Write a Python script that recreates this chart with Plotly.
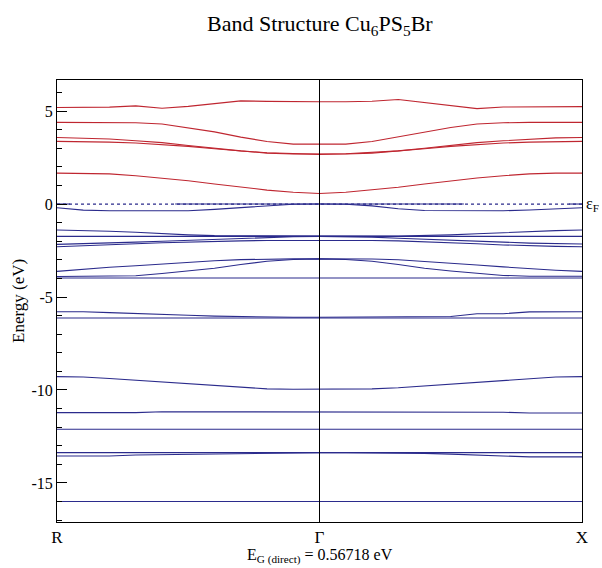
import plotly.graph_objects as go

# k-path positions: R (0) -> Gamma (1) -> X (2)
K = [0.0, 0.1, 0.2, 0.3, 0.4, 0.5, 0.6, 0.7, 0.8, 0.9, 1.0,
     1.1, 1.2, 1.3, 1.4, 1.5, 1.6, 1.7, 1.8, 1.9, 2.0]
TICK_POS = [0, 1, 2]
TICK_TEXT = ["R", "Γ", "X"]

# conduction bands (red)
CB_A = [5.19, 5.19, 5.21, 5.28, 5.15, 5.25, 5.40, 5.55, 5.52, 5.50, 5.50,
        5.50, 5.53, 5.62, 5.45, 5.28, 5.13, 5.22, 5.24, 5.24, 5.24]
CB_B = [4.39, 4.39, 4.39, 4.37, 4.30, 4.10, 3.88, 3.60, 3.36, 3.22, 3.20,
        3.22, 3.36, 3.60, 3.88, 4.12, 4.30, 4.37, 4.39, 4.39, 4.39]
CB_C = [3.58, 3.56, 3.50, 3.40, 3.30, 3.15, 3.00, 2.86, 2.76, 2.70, 2.67,
        2.70, 2.76, 2.86, 3.00, 3.15, 3.30, 3.40, 3.50, 3.56, 3.58]
CB_D = [3.37, 3.36, 3.33, 3.28, 3.20, 3.10, 2.97, 2.84, 2.74, 2.69, 2.67,
        2.69, 2.74, 2.84, 2.97, 3.10, 3.20, 3.28, 3.33, 3.36, 3.37]
CB_E = [1.66, 1.66, 1.62, 1.52, 1.40, 1.25, 1.08, 0.90, 0.75, 0.63, 0.567,
        0.63, 0.75, 0.90, 1.08, 1.25, 1.40, 1.52, 1.62, 1.66, 1.66]

# top valence band (partly hidden under the dotted Fermi level)
VB1_K = [0.0, 0.05, None, 0.45, 1.0, 1.55, None, 1.95, 2.0]
VB1_E = [0.0, 0.0, None, 0.0, 0.0, 0.0, None, 0.0, 0.0]

# valence bands (blue)
VB_2 = [-0.20, -0.33, -0.36, -0.36, -0.36, -0.36, -0.29, -0.19, -0.08, -0.01, 0.0,
        -0.01, -0.10, -0.25, -0.35, -0.36, -0.36, -0.36, -0.32, -0.26, -0.20]
VB_W1 = [-1.40, -1.42, -1.46, -1.52, -1.60, -1.66, -1.70, -1.71, -1.72, -1.72, -1.72,
         -1.72, -1.72, -1.72, -1.70, -1.66, -1.60, -1.53, -1.47, -1.43, -1.40]
VB_W2 = [-1.74, -1.74, -1.74, -1.74, -1.74, -1.74, -1.74, -1.74, -1.74, -1.74, -1.74,
         -1.74, -1.74, -1.74, -1.74, -1.74, -1.74, -1.74, -1.74, -1.74, -1.74]
VB_W3 = [-2.17, -2.14, -2.10, -2.05, -2.00, -1.95, -1.90, -1.84, -1.78, -1.76, -1.75,
         -1.76, -1.78, -1.84, -1.90, -1.95, -2.00, -2.05, -2.10, -2.13, -2.15]
VB_W4 = [-2.30, -2.26, -2.20, -2.14, -2.08, -2.04, -2.01, -1.98, -1.96, -1.95, -1.95,
         -1.95, -1.96, -1.98, -2.02, -2.08, -2.14, -2.20, -2.25, -2.28, -2.30]
VB_F1 = [-3.62, -3.50, -3.40, -3.32, -3.22, -3.13, -3.05, -2.99, -2.96, -2.95, -2.95,
         -2.95, -2.96, -3.00, -3.08, -3.18, -3.28, -3.38, -3.48, -3.56, -3.62]
VB_F2 = [-3.90, -3.90, -3.90, -3.86, -3.74, -3.60, -3.45, -3.25, -3.08, -2.98, -2.95,
         -2.98, -3.08, -3.25, -3.45, -3.60, -3.74, -3.84, -3.88, -3.88, -3.88]
VB_F3 = [-3.98, -3.98, -3.98, -3.98, -3.98, -3.98, -3.98, -3.98, -3.98, -3.98, -3.98,
         -3.98, -3.98, -3.98, -3.98, -3.98, -3.98, -3.98, -3.98, -3.98, -3.98]
VB_G1 = [-5.79, -5.79, -5.84, -5.88, -5.90, -5.98, -6.03, -6.06, -6.08, -6.09, -6.09,
         -6.09, -6.08, -6.06, -6.05, -6.05, -5.90, -5.90, -5.80, -5.79, -5.79]
VB_G2 = [-6.13, -6.13, -6.12, -6.12, -6.11, -6.11, -6.10, -6.10, -6.09, -6.09, -6.09,
         -6.09, -6.09, -6.10, -6.10, -6.11, -6.11, -6.12, -6.13, -6.13, -6.13]
VB_H = [-9.28, -9.30, -9.38, -9.48, -9.58, -9.67, -9.78, -9.88, -9.94, -9.96, -9.96,
        -9.96, -9.94, -9.88, -9.78, -9.67, -9.58, -9.48, -9.38, -9.30, -9.28]
VB_I = [-11.22, -11.22, -11.22, -11.22, -11.17, -11.17, -11.17, -11.17, -11.17, -11.17, -11.17,
        -11.17, -11.17, -11.17, -11.17, -11.17, -11.17, -11.20, -11.24, -11.24, -11.24]
VB_J = [-12.11, -12.11, -12.11, -12.11, -12.11, -12.11, -12.11, -12.11, -12.11, -12.11, -12.11,
        -12.11, -12.11, -12.11, -12.11, -12.11, -12.11, -12.11, -12.11, -12.11, -12.11]
VB_K1 = [-13.37, -13.37, -13.37, -13.37, -13.37, -13.37, -13.37, -13.37, -13.37, -13.37, -13.37,
         -13.37, -13.37, -13.37, -13.37, -13.37, -13.37, -13.37, -13.37, -13.37, -13.37]
VB_K2 = [-13.55, -13.55, -13.55, -13.50, -13.48, -13.43, -13.41, -13.39, -13.37, -13.37, -13.37,
         -13.37, -13.37, -13.39, -13.41, -13.45, -13.50, -13.58, -13.60, -13.60, -13.60]
VB_L = [-16.00, -16.00, -16.00, -16.00, -16.00, -16.00, -16.00, -16.00, -16.00, -16.00, -16.00,
        -16.00, -16.00, -16.00, -16.00, -16.00, -16.00, -16.00, -16.00, -16.00, -16.00]

CONDUCTION = [CB_A, CB_B, CB_C, CB_D, CB_E]
VALENCE = [VB_2, VB_W1, VB_W2, VB_W3, VB_W4, VB_F1, VB_F2, VB_F3,
           VB_G1, VB_G2, VB_H, VB_I, VB_J, VB_K1, VB_K2, VB_L]

GAP_TEXT = "E<sub>G (direct)</sub> = 0.56718 eV"
TITLE = "Band Structure Cu<sub>6</sub>PS<sub>5</sub>Br"

RED = "#bf2630"
BLUE = "#2b2b8c"
FONT = "Liberation Serif"

fig = go.Figure()
for band in CONDUCTION:
    fig.add_trace(go.Scatter(x=K, y=band, mode="lines",
                             line=dict(color=RED, width=1.1), hoverinfo="skip"))
# Fermi level (dotted)
fig.add_trace(go.Scatter(x=[0, 2], y=[0, 0], mode="lines",
                         line=dict(color=BLUE, width=1.2, dash="dot"), hoverinfo="skip"))
fig.add_trace(go.Scatter(x=VB1_K, y=VB1_E, mode="lines", connectgaps=False,
                         line=dict(color=BLUE, width=1.1), hoverinfo="skip"))
for band in VALENCE:
    fig.add_trace(go.Scatter(x=K, y=band, mode="lines",
                             line=dict(color=BLUE, width=1.1), hoverinfo="skip"))

fig.add_shape(type="line", xref="x", yref="paper", x0=1, x1=1, y0=0, y1=1,
              line=dict(color="black", width=1))

fig.update_layout(
    width=602, height=568,
    margin=dict(l=57, r=20, t=80, b=46),
    paper_bgcolor="white", plot_bgcolor="white",
    showlegend=False,
    font=dict(family=FONT, color="black"),
    xaxis=dict(range=[0, 2], tickvals=TICK_POS, ticktext=TICK_TEXT,
               showgrid=False, zeroline=False, showline=True, mirror=True,
               linecolor="black", linewidth=1, ticks="",
               tickfont=dict(family=FONT, size=17)),
    yaxis=dict(range=[-17.1, 6.67], tickvals=[-15, -10, -5, 0, 5],
               ticktext=["-15", "-10", "-5", "0", "5"],
               showgrid=False, zeroline=False, showline=True, mirror=True,
               linecolor="black", linewidth=1, ticks="inside", ticklen=10,
               tickcolor="black", tickwidth=1,
               minor=dict(dtick=1, tick0=0, ticks="inside", ticklen=5,
                          tickcolor="black", tickwidth=1, showgrid=False),
               tickfont=dict(family=FONT, size=16)),
    annotations=[
        dict(text=TITLE, xref="paper", yref="paper", x=0.5, y=1, yshift=55,
             xanchor="center", yanchor="middle", showarrow=False,
             font=dict(family=FONT, size=22)),
        dict(text=GAP_TEXT, xref="paper", yref="paper", x=0.5, y=0, yshift=-34,
             xanchor="center", yanchor="middle", showarrow=False,
             font=dict(family=FONT, size=16)),
        dict(text="Energy (eV)", xref="paper", yref="paper", x=0, y=0.5, xshift=-39,
             xanchor="center", yanchor="middle", textangle=-90, showarrow=False,
             font=dict(family=FONT, size=17)),
        dict(text="ε<sub>F</sub>", xref="paper", yref="y", x=1, y=0, xshift=2,
             xanchor="left", yanchor="middle", showarrow=False,
             font=dict(family=FONT, size=16)),
    ],
)

# remove the browser's default 8 px body margin so the figure fills the window exactly
fig.write_html("out.html",
               config={"displayModeBar": False, "staticPlot": True},
               post_script="document.body.style.margin='0';document.body.style.overflow='hidden';")
